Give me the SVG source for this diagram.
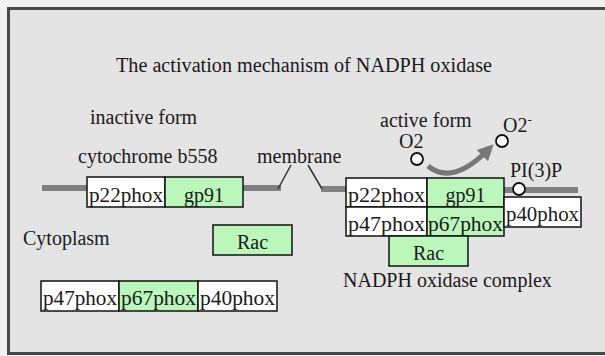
<svg xmlns="http://www.w3.org/2000/svg" width="605" height="356" viewBox="0 0 605 356">
<style>
text{font-family:"Liberation Serif","Times New Roman",serif;font-size:20px;fill:#1a1a1a}
.c{text-anchor:middle}
.w{fill:#ffffff;stroke:#111;stroke-width:1.5}
.g{fill:#bbf7bb;stroke:#111;stroke-width:1.5}
.mem{stroke:#808080;stroke-width:6;fill:none}
.thin{stroke:#333;stroke-width:1.5;fill:none}
.dot{fill:#fff;stroke:#111;stroke-width:1.8}
</style>
<defs>
<marker id="ah" viewBox="0 0 10 10" refX="5" refY="5" markerWidth="3.2" markerHeight="3.2" orient="auto" markerUnits="strokeWidth">
<path d="M0,0 L10,5 L0,10 z" fill="#777"/>
</marker>
</defs>
<rect x="0" y="0" width="605" height="356" fill="#f2f2f2"/>
<rect id="frame" x="8.5" y="8.5" width="610" height="345" fill="#e4e4e4" stroke="#4a4a4a" stroke-width="3"/>
<text id="title" x="116" y="72" textLength="376" lengthAdjust="spacingAndGlyphs">The activation mechanism of NADPH oxidase</text>
<g id="connectors">
<path class="mem" d="M42,188 H88"/>
<path class="mem" d="M243,188 H281"/>
<path class="mem" d="M321,189 H346"/>
<path class="mem" d="M504,190 H578"/>
<path class="thin" d="M278,189 L291,165"/>
<path class="thin" d="M308,165 L322,189"/>
<path d="M428,166 Q452,186 488,150" fill="none" stroke="#777" stroke-width="5" marker-end="url(#ah)"/>
</g>
<g id="labels">
<text x="90" y="124">inactive form</text>
<text x="78" y="163">cytochrome b558</text>
<text x="257" y="163">membrane</text>
<text x="23" y="245">Cytoplasm</text>
<text x="380" y="127">active form</text>
<text x="343" y="287">NADPH oxidase complex</text>
</g>
<g id="cytochrome-b558">
<rect class="w" x="87" y="177" width="78" height="30"/>
<text class="c" x="126" y="202" textLength="74" lengthAdjust="spacingAndGlyphs">p22phox</text>
<rect class="g" x="165" y="177" width="78" height="30"/>
<text class="c" x="204" y="202">gp91</text>
</g>
<g id="rac-cytoplasm">
<rect class="g" x="213" y="225" width="79" height="30"/>
<text class="c" x="252.5" y="249">Rac</text>
</g>
<g id="cytosolic-complex">
<rect class="w" x="41" y="281" width="78" height="30"/>
<text class="c" x="80" y="305" textLength="74" lengthAdjust="spacingAndGlyphs">p47phox</text>
<rect class="g" x="119" y="281" width="79" height="30"/>
<text class="c" x="158.5" y="305" textLength="75" lengthAdjust="spacingAndGlyphs">p67phox</text>
<rect class="w" x="198" y="281" width="79" height="30"/>
<text class="c" x="237.5" y="305" textLength="75" lengthAdjust="spacingAndGlyphs">p40phox</text>
</g>
<g id="nadph-oxidase-complex">
<rect class="w" x="346" y="178" width="81" height="29"/>
<text class="c" x="386.5" y="202" textLength="77" lengthAdjust="spacingAndGlyphs">p22phox</text>
<rect class="g" x="427" y="178" width="77" height="29"/>
<text class="c" x="465.5" y="202">gp91</text>
<rect class="w" x="346" y="207" width="81" height="29"/>
<text class="c" x="386.5" y="231" textLength="77" lengthAdjust="spacingAndGlyphs">p47phox</text>
<rect class="g" x="427" y="207" width="77" height="29"/>
<text class="c" x="465.5" y="231" textLength="75" lengthAdjust="spacingAndGlyphs">p67phox</text>
<rect class="g" x="389" y="236" width="79" height="30"/>
<text class="c" x="428.5" y="260">Rac</text>
<rect class="w" x="504" y="197" width="77" height="30"/>
<text class="c" x="542.5" y="221" textLength="73" lengthAdjust="spacingAndGlyphs">p40phox</text>
</g>
<g id="o2">
<circle class="dot" cx="417" cy="159" r="6"/>
<text x="399" y="148">O2</text>
</g>
<g id="o2-superoxide">
<circle class="dot" cx="502" cy="141" r="6"/>
<text x="503" y="132">O2<tspan font-size="13" dy="-8">-</tspan></text>
</g>
<g id="pi3p">
<circle class="dot" cx="519" cy="189" r="6"/>
<text x="510" y="177">PI(3)P</text>
</g>
</svg>
